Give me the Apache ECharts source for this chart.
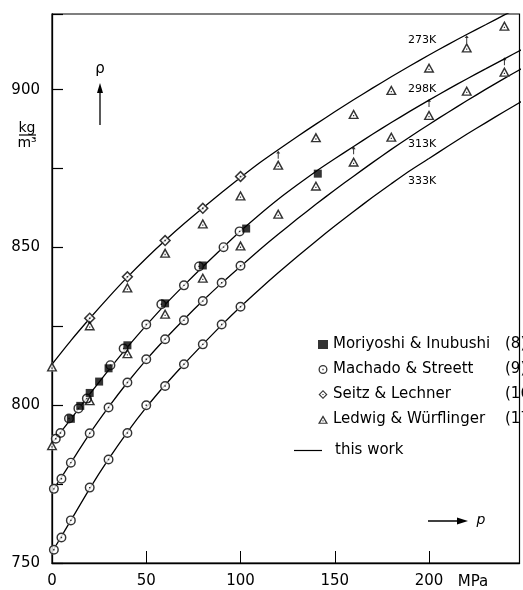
<!DOCTYPE html>
<html>
<head>
<meta charset="utf-8">
<script src="https://cdn.jsdelivr.net/npm/echarts@6/dist/echarts.min.js"></script>
<style>
html,body{margin:0;padding:0;background:#fff;}
#c{width:523px;height:590px;}
</style>
</head>
<body>
<div id="c"></div>
<script>
// ---- data ----
const linePressure = [0,10,20,30,40,50,60,70,80,90,100,110,120,130,140,150,160,170,180,190,200,210,220,230,240,250];
const line273 = [813,820.5,827.5,834.2,840.6,846.6,852.2,857.5,862.5,867.4,872.2,876.8,881,885.1,889.1,893,896.8,900.5,904.1,907.6,911,914.3,917.5,920.6,923.7,926.7];
const line298 = [788,795.6,803.5,811.1,818.4,825.3,831.9,838,843.9,849.6,855.2,860.4,865.3,869.8,874.1,878.1,882,885.9,889.6,893.2,896.7,900.1,903.4,906.6,909.8,913];
const line313 = [772.6,781.8,791,799.4,807.2,814.4,821,827.2,833.1,838.7,844,849.2,854.2,859,863.7,868.2,872.6,876.9,881.1,885.1,889,892.8,896.5,900.1,903.6,907];
const line333 = [753.4,763.5,773.6,782.9,791.5,799.3,806.4,813,819.3,825.4,831.2,836.7,842,847.1,852,856.8,861.4,865.9,870.2,874.4,878.2,882.1,885.9,889.5,893.1,896.6];

const moriyoshiP = [10,15,20,25,30,40,60,80,103,141];
const moriyoshiV = [795.7,799.8,803.9,807.5,811.7,819,832.3,844.3,856,873.4];

const machado298P = [2,4.5,9,14,18.5,31,38,50,58,70,78,91,99.5];
const machado298V = [789.4,791.2,795.8,799,802.1,812.7,818,825.6,832,838,844,850.1,855.1];
const machado313P = [1,5,10,20,30,40,50,60,70,80,90,100];
const machado313V = [773.5,776.7,781.8,791.1,799.3,807.2,814.6,820.9,826.9,833,838.8,844.2];
const machado333P = [1,5,10,20,30,40,50,60,70,80,90,100];
const machado333V = [754.2,758.1,763.5,773.9,782.8,791.2,800,806.1,813,819.3,825.6,831.2];

const seitzP = [20,40,60,80,100];
const seitzV = [827.6,840.7,852.2,862.4,872.5];

const ledwigP = [0,20,40,60,80,100,120,140,160,180,200,220,240];
const ledwig273V = [812.3,825.3,837.3,848.3,857.6,866.5,876.2,884.9,892.3,899.9,907,913.4,920.3];
const ledwig298V = [787.3,801.6,816.5,829,840.4,850.6,860.7,869.6,877.2,885.1,892,899.7,905.7];

const shiftArrowP = [120,220,160,200,240];
const shiftArrowV = [879.4,916,880.8,895.8,909];

const xTicks = [0,50,100,150,200];
const yTicks = [750,800,850,900];
const tempLabels = ['273K','298K','313K','333K'];
const legendNames = ['Moriyoshi & Inubushi','Machado & Streett','Seitz & Lechner','Ledwig & Würflinger'];
const legendRefs = ['(8)','(9)','(16)','(17)'];

// ---- helpers ----
const pairs = (P, V) => P.map((p, i) => [p, V[i]]);
const FONT = 'DejaVu Sans';
const ringCircle = 'path://M10,0 A10,10 0 1,1 10,20 A10,10 0 1,1 10,0 Z M10,2.9 A7.1,7.1 0 1,0 10,17.1 A7.1,7.1 0 1,0 10,2.9 Z M8.6,8.6 L11.4,8.6 L11.4,11.4 L8.6,11.4 Z';
const ringDiamond = 'path://M10,0 L20,10 L10,20 L0,10 Z M10,3.6 L3.6,10 L10,16.4 L16.4,10 Z M8.7,8.7 L11.3,8.7 L11.3,11.3 L8.7,11.3 Z';
const ringTriangle = 'path://M10,0 L20,17 L0,17 Z M10,5.2 L4.4,14.8 L15.6,14.8 Z M8.9,10.2 L11.1,10.2 L11.1,12.4 L8.9,12.4 Z';
const upArrow = 'path://M5,0 L9,5 L6,5 L6,14 L4,14 L4,5 L1,5 Z';

const lineSeries = [line273, line298, line313, line333].map(arr => ({
  name: 'this work', type: 'line', data: pairs(linePressure, arr),
  symbol: 'none', smooth: 0.2, clip: true,
  lineStyle: { color: '#000', width: 1.3 }, z: 2
}));

const machadoData = pairs(machado298P, machado298V).concat(pairs(machado313P, machado313V), pairs(machado333P, machado333V));
const ledwigData = pairs(ledwigP, ledwig273V).concat(pairs(ledwigP, ledwig298V));
const seitzData = pairs(seitzP, seitzV);

const bg = (data, symbol, size) => ({
  name: '_bg', type: 'scatter', data, symbol, symbolSize: size,
  itemStyle: { color: '#fff' }, z: 3, silent: true
});

const option = {
  backgroundColor: '#fff',
  animation: false,
  grid: { left: 52, right: 3.5, top: 14, bottom: 27, show: true, borderColor: '#000', borderWidth: 1.2, backgroundColor: 'transparent' },
  xAxis: {
    type: 'value', min: 0, max: 248, interval: 50,
    axisLine: { show: true, onZero: false, lineStyle: { color: '#000', width: 1.3 } },
    axisTick: { show: true, inside: true, length: 12, lineStyle: { color: '#000' } },
    splitLine: { show: false },
    axisLabel: { margin: 11, color: '#000', fontFamily: FONT, fontSize: 15,
      formatter: v => xTicks.includes(v) ? String(v) : '' }
  },
  yAxis: {
    type: 'value', min: 750, max: 924, interval: 25,
    axisLine: { show: true, onZero: false, lineStyle: { color: '#000', width: 1.3 } },
    axisTick: { show: true, inside: true, length: 11, lineStyle: { color: '#000', width: 1.2 } },
    splitLine: { show: false },
    axisLabel: { margin: 12, color: '#000', fontFamily: FONT, fontSize: 15,
      formatter: v => yTicks.includes(v) ? String(v) : '' }
  },
  legend: [
    {
      orient: 'vertical', left: 313, top: 331, itemWidth: 10, itemHeight: 9, itemGap: 8,
      selectedMode: false,
      data: [
        { name: legendNames[0], icon: 'rect', itemStyle: { color: '#000', borderWidth: 0 } },
        { name: legendNames[1], icon: ringCircle, itemStyle: { color: '#000', borderWidth: 0 } },
        { name: legendNames[2], icon: ringDiamond, itemStyle: { color: '#000', borderWidth: 0 } },
        { name: legendNames[3], icon: ringTriangle, itemStyle: { color: '#000', borderWidth: 0 } }
      ],
      formatter: name => {
        const i = legendNames.indexOf(name);
        return '{n|' + name + '}{r|' + legendRefs[i] + '}';
      },
      textStyle: {
        color: '#000', fontFamily: FONT, fontSize: 15, lineHeight: 17,
        rich: {
          n: { width: 172, fontFamily: FONT, fontSize: 15, color: '#000' },
          r: { fontFamily: FONT, fontSize: 15, color: '#000' }
        }
      }
    },
    {
      orient: 'vertical', left: 289, top: 438, itemWidth: 28, itemHeight: 9, selectedMode: false,
      data: [{ name: 'this work', icon: 'path://M0,9 L28,9 L28,10.2 L0,10.2 Z', itemStyle: { color: '#000' } }],
      textStyle: { color: '#000', fontFamily: FONT, fontSize: 15, padding: [0, 0, 0, 8] }
    }
  ],
  series: [
    ...lineSeries,
    bg(machadoData, 'circle', 10),
    bg(seitzData, 'diamond', 12),
    bg(ledwigData, 'triangle', [11, 10]),
    { name: legendNames[3], type: 'scatter', data: ledwigData, symbol: ringTriangle, symbolSize: [11, 10],
      itemStyle: { color: '#000' }, z: 4 },
    { name: legendNames[2], type: 'scatter', data: seitzData, symbol: ringDiamond, symbolSize: 12,
      itemStyle: { color: '#000' }, z: 4 },
    { name: legendNames[1], type: 'scatter', data: machadoData, symbol: ringCircle, symbolSize: 10,
      itemStyle: { color: '#000' }, z: 4 },
    { name: legendNames[0], type: 'scatter', data: pairs(moriyoshiP, moriyoshiV), symbol: 'rect', symbolSize: 8,
      itemStyle: { color: '#000' }, z: 5 },
    { name: '_arrows', type: 'scatter', data: pairs(shiftArrowP, shiftArrowV), symbol: upArrow, symbolSize: [4, 8],
      itemStyle: { color: '#000' }, z: 5, silent: true }
  ],
  graphic: [
    { type: 'text', x: 27, y: 128, style: { text: 'kg', font: '14px "DejaVu Sans"', fill: '#000', textAlign: 'center', textVerticalAlign: 'middle' } },
    { type: 'line', shape: { x1: 19, y1: 135, x2: 36, y2: 135 }, style: { stroke: '#000', lineWidth: 1.2 } },
    { type: 'text', x: 27, y: 143, style: { text: 'm³', font: '14px "DejaVu Sans"', fill: '#000', textAlign: 'center', textVerticalAlign: 'middle' } },
    { type: 'text', x: 100, y: 69, style: { text: 'ρ', font: '15px "DejaVu Sans"', fill: '#000', textAlign: 'center', textVerticalAlign: 'middle' } },
    { type: 'line', shape: { x1: 100, y1: 125, x2: 100, y2: 88 }, style: { stroke: '#000', lineWidth: 1.3 } },
    { type: 'polygon', shape: { points: [[100, 83], [97, 93], [103, 93]] }, style: { fill: '#000' } },
    { type: 'line', shape: { x1: 428, y1: 521, x2: 462, y2: 521 }, style: { stroke: '#000', lineWidth: 1.3 } },
    { type: 'polygon', shape: { points: [[468, 521], [457, 517.5], [457, 524.5]] }, style: { fill: '#000' } },
    { type: 'text', x: 481, y: 520, style: { text: 'p', font: 'italic 14px "DejaVu Sans"', fill: '#000', textAlign: 'center', textVerticalAlign: 'middle' } },
    { type: 'text', x: 473, y: 582, style: { text: 'MPa', font: '15px "DejaVu Sans"', fill: '#000', textAlign: 'center', textVerticalAlign: 'middle' } },
    { type: 'text', x: 408, y: 40, style: { text: tempLabels[0], font: '11px "DejaVu Sans"', fill: '#000', textVerticalAlign: 'middle' } },
    { type: 'text', x: 408, y: 89, style: { text: tempLabels[1], font: '11px "DejaVu Sans"', fill: '#000', textVerticalAlign: 'middle' } },
    { type: 'text', x: 408, y: 144, style: { text: tempLabels[2], font: '11px "DejaVu Sans"', fill: '#000', textVerticalAlign: 'middle' } },
    { type: 'text', x: 408, y: 181, style: { text: tempLabels[3], font: '11px "DejaVu Sans"', fill: '#000', textVerticalAlign: 'middle' } }
  ]
};

const chart = echarts.init(document.getElementById('c'), null, { renderer: 'canvas' });
chart.setOption(option);
</script>
</body>
</html>
